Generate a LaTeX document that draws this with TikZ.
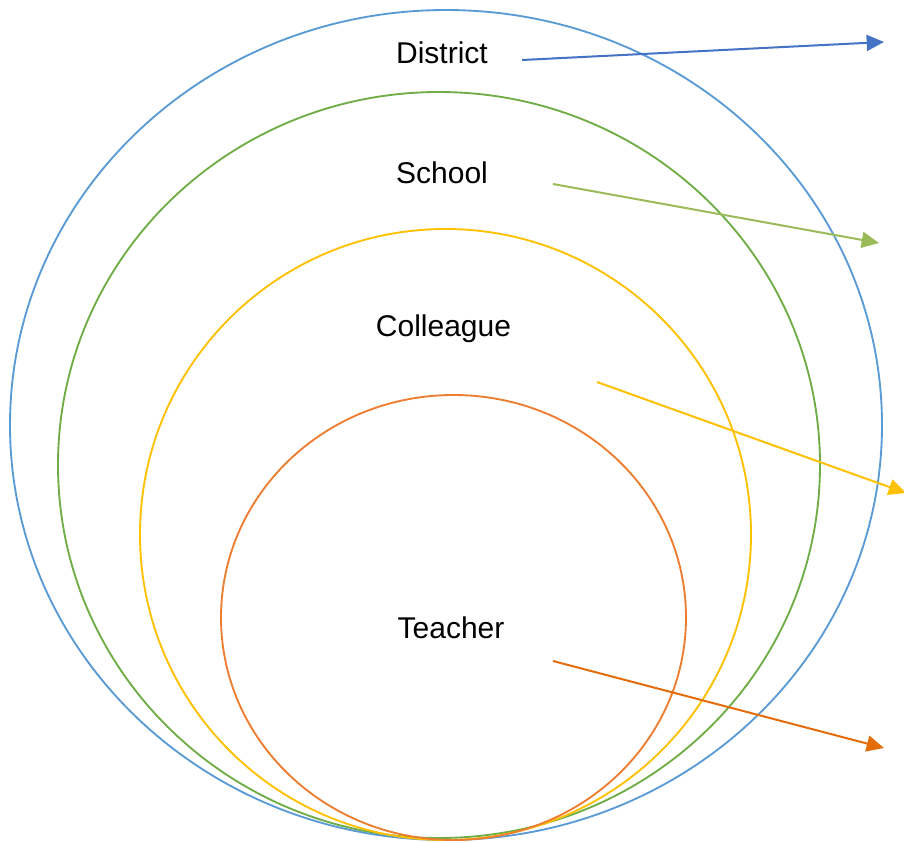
\documentclass[tikz,border=0pt]{standalone}
\usepackage{fontspec}
\setmainfont{Liberation Sans}
\usetikzlibrary{arrows.meta}

\definecolor{ringblue}{HTML}{5B9BD5}
\definecolor{ringgreen}{HTML}{70AD47}
\definecolor{ringyellow}{HTML}{FFC000}
\definecolor{ringorange}{HTML}{ED7D31}
\definecolor{arrowblue}{HTML}{4472C4}
\definecolor{arrowgreen}{HTML}{9BBB59}
\definecolor{arroworange}{HTML}{E46C0A}

\begin{document}
\begin{tikzpicture}[x=0.75pt, y=-0.75pt,
    ring/.style={line width=1.4pt},
    flow/.style={line width=1.5pt, -{Triangle[length=13pt, width=12pt]}},
    lbl/.style={anchor=base, inner sep=0pt, font=\fontsize{22.5}{27}\selectfont}]
\useasboundingbox (0,0) rectangle (904,843);

% rings
\draw[ring, ringblue] (446,425) ellipse [x radius=436, y radius=415];
\draw[ring, ringgreen] (439,465) ellipse [x radius=381, y radius=373];
\draw[ring, ringyellow] (445.5,534.5) ellipse [x radius=305.5, y radius=305.5];
\draw[ring, ringorange] (453.5,617.5) ellipse [x radius=232.5, y radius=222.5];

% labels
\node[lbl] (district) at (442,63) {District};
\node[lbl] (school) at (442,183) {School};
\node[lbl] (colleague) at (443.5,336) {Colleague};
\node[lbl] (teacher) at (451,638) {Teacher};

% arrow ends
\coordinate (districtfrom) at (522,60);
\coordinate (districtto) at (884,42);
\coordinate (schoolfrom) at (553,184);
\coordinate (schoolto) at (879,243);
\coordinate (colleaguefrom) at (597,382);
\coordinate (colleagueto) at (906,493);
\coordinate (teacherfrom) at (553,661);
\coordinate (teacherto) at (884,748);

\draw[flow, arrowblue] (districtfrom) -- (districtto);
\draw[flow, arrowgreen] (schoolfrom) -- (schoolto);
\draw[flow, ringyellow] (colleaguefrom) -- (colleagueto);
\draw[flow, arroworange] (teacherfrom) -- (teacherto);
\end{tikzpicture}
\end{document}
